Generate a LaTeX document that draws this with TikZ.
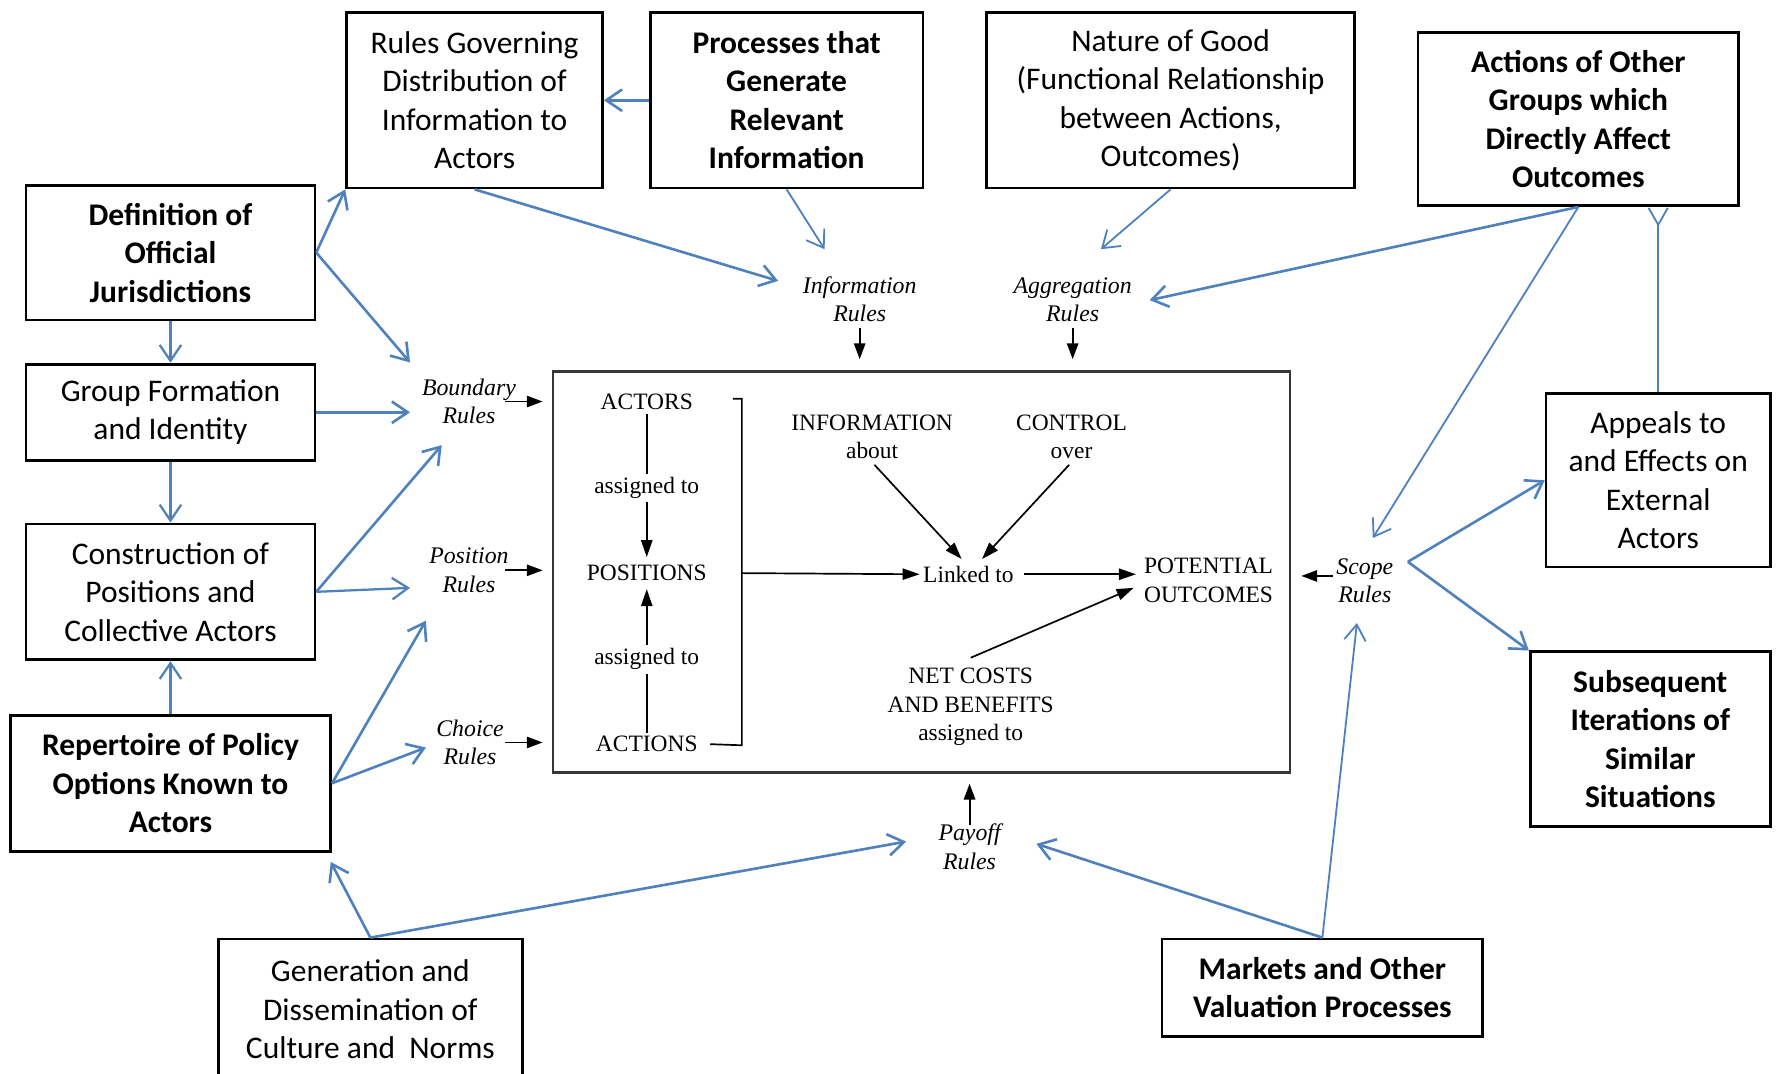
\documentclass[tikz,border=0pt]{standalone}
\usepackage{fontspec}
\setmainfont{Liberation Serif}
\newfontfamily\calfont{Carlito}
\usetikzlibrary{arrows.meta,calc}
\definecolor{linkblue}{RGB}{79,129,189}
\definecolor{arenagrey}{RGB}{55,55,55}

\begin{document}
\begin{tikzpicture}[x=1pt,y=-1pt,
  box/.style={draw=black, line width=2.4pt, inner sep=0pt, align=center,
    font=\calfont\fontsize{27.8}{34}\selectfont},
  boldbox/.style={box, font=\calfont\bfseries\fontsize{27.8}{34}\selectfont},
  intext/.style={inner sep=3pt, align=center, font=\fontsize{20.7}{25}\selectfont},
  rulelabel/.style={inner sep=3pt, align=center, font=\itshape\fontsize{21}{25}\selectfont},
  inarrow/.style={line width=1.5pt, -{Triangle[length=15pt,width=10pt]}},
  inline/.style={line width=1.5pt},
  blk/.style={line width=1.7pt, -{Triangle[length=14pt,width=10pt]}},
  link/.style={draw=linkblue, line width=2.3pt, -{Straight Barb[length=14pt,width=19pt]}},
  thinlink/.style={link, line width=1.6pt},
]
\path[use as bounding box, fill=white] (0,0) rectangle (1568,948);
\clip (0,0) rectangle (1568,948);

% outer boxes
\node[box, minimum width=226pt, minimum height=155pt] (rules) at (419,88.5)
  {Rules Governing\\Distribution of\\Information to\\Actors};
\node[boldbox, minimum width=241pt, minimum height=155pt] (proc) at (694.5,88.5)
  {Processes that\\Generate\\Relevant\\Information};
\node[box, minimum width=325pt, minimum height=155pt] (nature) at (1033.5,88.5)
  {Nature of Good\\(Functional Relationship\\between Actions,\\Outcomes)};
\node[boldbox, minimum width=283pt, minimum height=153pt] (other) at (1393.5,105)
  {Actions of Other\\Groups which\\Directly Affect\\Outcomes};
\node[boldbox, minimum width=255pt, minimum height=119pt] (def) at (150.5,223)
  {Definition of\\Official\\Jurisdictions};
\node[box, minimum width=255pt, minimum height=85pt] (group) at (150.5,364)
  {Group Formation\\and Identity};
\node[box, minimum width=255pt, minimum height=120pt] (constr) at (150.5,522.5)
  {Construction of\\Positions and\\Collective Actors};
\node[boldbox, minimum width=283pt, minimum height=120pt] (rep) at (150.5,691.5)
  {Repertoire of Policy\\Options Known to\\Actors};
\node[box, minimum width=268pt, minimum height=124pt] (gen) at (327,891)
  {Generation and\\Dissemination of\\Culture and~ Norms};
\node[boldbox, minimum width=283pt, minimum height=86pt] (markets) at (1167.5,872)
  {Markets and Other\\Valuation Processes};
\node[box, minimum width=198pt, minimum height=153pt] (appeals) at (1464,424)
  {Appeals to\\and Effects on\\External\\Actors};
\node[boldbox, minimum width=212pt, minimum height=154pt] (subseq) at (1457,652.5)
  {Subsequent\\Iterations of\\Similar\\Situations};

% action arena
\node[draw=arenagrey, line width=1.8pt, minimum width=651pt, minimum height=354pt, inner sep=0pt] (arena) at (813.5,505) {};

\node[intext] (actors) at (571,355) {ACTORS};
\node[intext] (asg1) at (571,431) {assigned to};
\node[intext] (positions) at (571,506) {POSITIONS};
\node[intext] (asg2) at (571,582) {assigned to};
\node[intext] (actions) at (571,657) {ACTIONS};
\node[intext] (info) at (770,385.5) {INFORMATION\\about};
\node[intext] (control) at (946,385.5) {CONTROL\\over};
\node[intext] (linked) at (855,507) {Linked to};
\node[intext] (potential) at (1067,512.5) {POTENTIAL\\OUTCOMES};
\node[intext] (netcosts) at (857,624) {NET COSTS\\AND BENEFITS\\assigned to};

\draw[inline] (actors) -- (asg1);
\draw[inarrow, shorten >=4pt] (asg1) -- (positions);
\draw[inline] (actions) -- (asg2);
\draw[inarrow, shorten >=4pt] (asg2) -- (positions);
\coordinate (brk) at (655,506);
\draw[inline] (647,352) -| (655,658) -- ([xshift=8pt]actions.east);
\draw[inarrow] (brk) -- (linked.west);
\draw[inarrow, shorten <=3pt] (info.south) -- ([xshift=-6pt,yshift=3pt]linked.north);
\draw[inarrow, shorten <=3pt] (control.south) -- ([xshift=12pt,yshift=3pt]linked.north);
\draw[inarrow, shorten <=6pt, shorten >=4pt] (linked.east) -- (linked.east -| potential.west);
\draw[inarrow] ([yshift=6pt]netcosts.north) -- ([xshift=-6pt,yshift=-6.5pt]potential.west);

% rule labels
\node[rulelabel] (inforules) at (759,264.5) {Information\\Rules};
\node[rulelabel] (aggrules) at (947,264.5) {Aggregation\\Rules};
\node[rulelabel] (boundary) at (414,354.5) {Boundary\\Rules};
\node[rulelabel] (position) at (414,503.5) {Position\\Rules};
\node[rulelabel] (choice) at (415,655.5) {Choice\\Rules};
\node[rulelabel] (payoff) at (856,747.5) {Payoff\\Rules};
\node[rulelabel] (scope) at (1205,512.5) {Scope\\Rules};

\draw[blk, shorten <=2pt, shorten >=10pt] (inforules.south) -- (inforules.south |- arena.north);
\draw[blk, shorten <=2pt, shorten >=10pt] (aggrules.south) -- (aggrules.south |- arena.north);
\draw[blk, shorten >=8pt] ([xshift=32pt]boundary.center) -- (boundary.center -| arena.west);
\draw[blk, shorten >=8pt] ([xshift=32pt]position.center) -- (position.center -| arena.west);
\draw[blk, shorten >=8pt] ([xshift=31pt]choice.center) -- (choice.center -| arena.west);
\draw[blk, shorten <=-4pt, shorten >=9pt] (payoff.north) -- (payoff.north |- arena.south);
\coordinate (sc-in) at ([yshift=4pt]scope.west);
\draw[blk, shorten >=9pt] (sc-in) -- (sc-in -| arena.east);

% free ends of the blue links
\coordinate (inf-a) at (687,248);
\coordinate (inf-b) at (728,220);
\coordinate (agg-a) at (972,220);
\coordinate (agg-b) at (1015,265);
\coordinate (sc-a) at (1212,475);
\coordinate (sc-b) at (1198,550);
\coordinate (sc-o) at (1243,496);
\coordinate (bd-a) at (362,320);
\coordinate (bd-b) at (362,364);
\coordinate (bd-c) at (390,393);
\coordinate (ps-a) at (362,519);
\coordinate (ps-b) at (376,548);
\coordinate (ch-a) at (376,660);
\coordinate (rp-a) at (292,761);
\coordinate (pf-a) at (800,743);
\coordinate (pf-b) at (915,745);

% blue links
\draw[link] (proc.west) -- (rules.east);
\draw[link] (rules.south) -- (inf-a);
\draw[thinlink] (proc.south) -- (inf-b);
\draw[thinlink] (nature.south) -- (agg-a);
\draw[link] (other.south) -- (agg-b);
\draw[thinlink] (other.south) -- (sc-a);
\draw[thinlink, -{Straight Barb[reversed,length=15pt,width=17pt]}] (appeals.north) -- (appeals.north |- other.south);
\draw[link] (def.east) -- (rules.south west);
\draw[link] (def.east) -- (bd-a);
\draw[link, line width=2pt] (def.south) -- (group.north);
\draw[link] (group.east) -- (bd-b);
\draw[link, line width=2pt] (group.south) -- (constr.north);
\draw[link, line width=2pt] (constr.east) -- (ps-a);
\draw[link] (constr.east) -- (bd-c);
\draw[link, line width=2pt] (rep.north) -- (constr.south);
\draw[link] (rep.east) -- (ps-b);
\draw[link] (rep.east) -- (ch-a);
\draw[link] (gen.north) -- (rp-a);
\draw[link] (gen.north) -- (pf-a);
\draw[link] (markets.north) -- (pf-b);
\draw[thinlink] (markets.north) -- (sc-b);
\draw[link] (sc-o) -- (appeals.west);
\draw[link] (sc-o) -- (subseq.north west);
\end{tikzpicture}
\end{document}
